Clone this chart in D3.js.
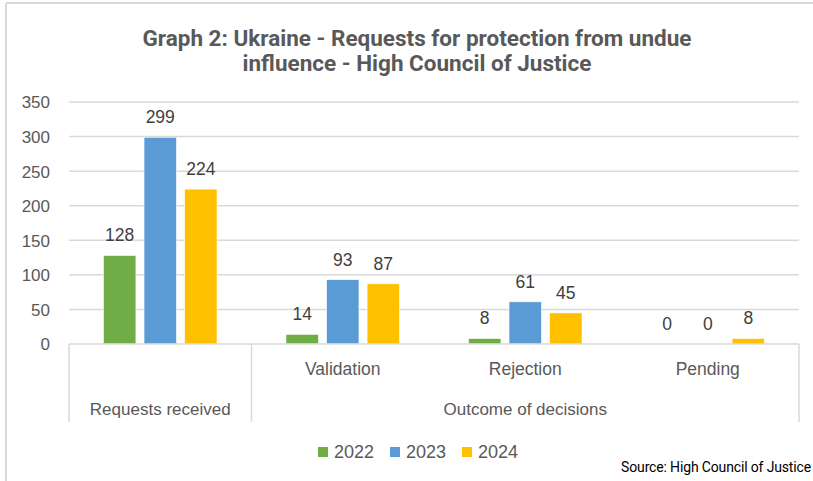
<!DOCTYPE html>
<html><head><meta charset="utf-8">
<script src="https://cdn.jsdelivr.net/npm/d3@7"></script>
<style>body{margin:0;background:#fff;}svg{display:block;}</style>
</head><body>
<svg id="c" width="813" height="481"></svg>
<script>
const categories = ["Requests received","Validation","Rejection","Pending"];
const groups = [{label:"Requests received", from:0, to:0, level:2},{label:"Outcome of decisions", from:1, to:3, level:2}];
const series = ["2022","2023","2024"];
const values2022 = [128,14,8,0];
const values2023 = [299,93,61,0];
const values2024 = [224,87,45,8];
const yTicks = [0,50,100,150,200,250,300,350];
const colors = ["#70AD47","#5B9BD5","#FFC000"];
const titleLines = ["Graph 2: Ukraine - Requests for protection from undue","influence - High Council of Justice"];
const sourceText = "Source: High Council of Justice";

const allValues = [values2022, values2023, values2024];
const svg = d3.select("#c");
const W = 813, H = 481;
const L = 69, R = 799, T = 102, B = 344;
const grid = "#d9d9d9";
const font = "'Liberation Sans', Arial, sans-serif";

// frame
svg.append("line").attr("x1",6).attr("x2",W).attr("y1",3).attr("y2",3).attr("stroke",grid).attr("stroke-width",2);
svg.append("line").attr("x1",6).attr("x2",6).attr("y1",3).attr("y2",H).attr("stroke",grid).attr("stroke-width",2);

// title
svg.append("text").attr("x",417).attr("y",46).attr("text-anchor","middle")
  .attr("font-family","Roboto, sans-serif").attr("font-weight","bold").attr("font-size",22.5).attr("fill","#595959")
  .selectAll("tspan").data(titleLines).join("tspan").attr("x",417).attr("dy",(d,i)=>i?25:0).text(d=>d);

const x0 = d3.scaleBand().domain(categories).range([L,R]).paddingInner(0).paddingOuter(0);
const x1 = d3.scaleBand().domain(series).range([0,x0.bandwidth()]).paddingInner(0.2).paddingOuter(0.85);
const y = d3.scaleLinear().domain([0,350]).range([B,T]);

// gridlines
svg.append("g").selectAll("line").data(yTicks.filter(d=>d>0)).join("line")
  .attr("x1",L).attr("x2",R).attr("y1",d=>y(d)).attr("y2",d=>y(d)).attr("stroke",grid).attr("stroke-width",1.5);

// y axis labels
const yAxis = d3.axisLeft(y).tickValues(yTicks).tickSize(0).tickPadding(0);
const ya = svg.append("g").attr("transform",`translate(50,0)`).call(yAxis);
ya.select(".domain").remove();
ya.selectAll("text").attr("font-family",font).attr("font-size",17).attr("fill","#595959").attr("dy","0.35em");

// bars
const data = [];
categories.forEach((c,ci)=>series.forEach((s,si)=>data.push({c,s,si,v:allValues[si][ci]})));
svg.append("g").selectAll("rect").data(data).join("rect")
  .attr("x",d=>x0(d.c)+x1(d.s)).attr("width",x1.bandwidth())
  .attr("y",d=>y(d.v)).attr("height",d=>y(0)-y(d.v))
  .attr("fill",d=>colors[d.si]).attr("stroke","#fff").attr("stroke-width",0.6);

// data labels
svg.append("g").selectAll("text").data(data).join("text")
  .attr("x",d=>x0(d.c)+x1(d.s)+x1.bandwidth()/2).attr("y",d=>y(d.v)-14)
  .attr("text-anchor","middle").attr("font-family",font).attr("font-size",17.5).attr("fill","#404040")
  .text(d=>d.v);

// x axis line
svg.append("line").attr("x1",L).attr("x2",R).attr("y1",B).attr("y2",B).attr("stroke",grid).attr("stroke-width",1.5);
// dividers
const divs = [x0(categories[0]), x0(categories[1]), x0(categories[3])+x0.bandwidth()];
svg.append("g").selectAll("line").data(divs).join("line")
  .attr("x1",d=>d).attr("x2",d=>d).attr("y1",B).attr("y2",422).attr("stroke",grid).attr("stroke-width",1.5);

// level 1 labels
svg.append("g").selectAll("text").data(categories.slice(1)).join("text")
  .attr("x",d=>x0(d)+x0.bandwidth()/2).attr("y",375).attr("text-anchor","middle")
  .attr("font-family",font).attr("font-size",17.5).attr("fill","#595959").text(d=>d);
// level 2 labels
svg.append("g").selectAll("text").data(groups).join("text")
  .attr("x",d=>(x0(categories[d.from])+x0(categories[d.to])+x0.bandwidth())/2).attr("y",415).attr("text-anchor","middle")
  .attr("font-family",font).attr("font-size",17).attr("fill","#595959").text(d=>d.label);

// legend
const legX = [318,390,462];
const lg = svg.append("g").selectAll("g").data(series).join("g").attr("transform",(d,i)=>`translate(${legX[i]},447)`);
lg.append("rect").attr("width",10).attr("height",10).attr("fill",(d,i)=>colors[i]);
lg.append("text").attr("x",16).attr("y",11).attr("font-family",font).attr("font-size",18).attr("fill","#595959").text(d=>d);

// source
svg.append("text").attr("x",811).attr("y",472).attr("text-anchor","end")
  .attr("font-family","Roboto, sans-serif").attr("font-size",14).attr("letter-spacing",-0.15).attr("fill","#000").text(sourceText);
</script>
</body></html>
